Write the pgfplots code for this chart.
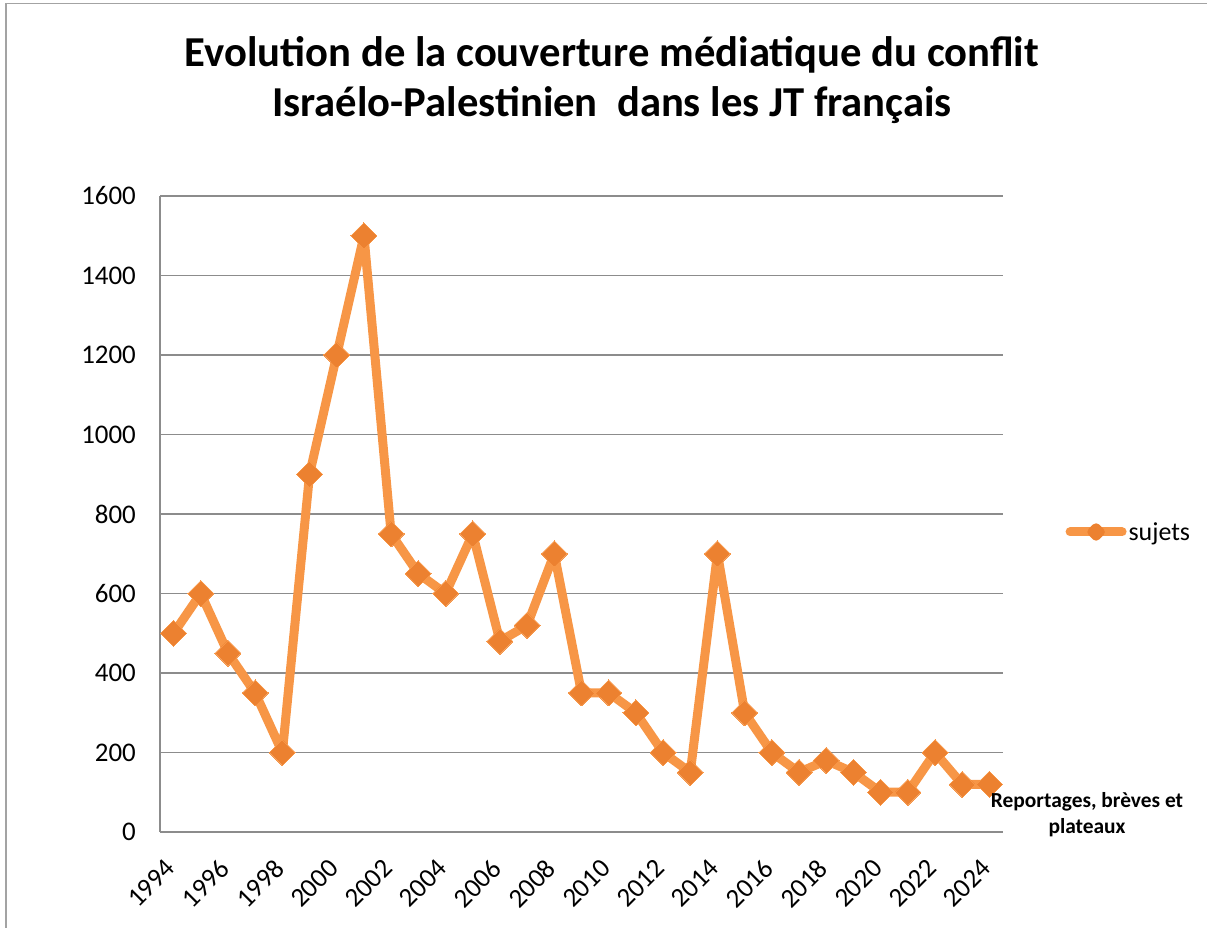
\documentclass[border=0pt]{standalone}
\usepackage{fontspec}
\setmainfont{Carlito}
\usepackage{pgfplots}
\pgfplotsset{compat=1.18}
\definecolor{lineor}{HTML}{F79646}
\definecolor{markor}{HTML}{EC8130}
\definecolor{gridg}{HTML}{8C8C8C}
\pgfplotstableread{
year val
1994 500
1995 600
1996 450
1997 350
1998 200
1999 900
2000 1200
2001 1500
2002 750
2003 650
2004 600
2005 750
2006 480
2007 520
2008 700
2009 350
2010 350
2011 300
2012 200
2013 150
2014 700
2015 300
2016 200
2017 150
2018 180
2019 150
2020 100
2021 100
2022 200
2023 120
2024 120
}\sujets
\begin{document}
\begin{tikzpicture}[x=1bp,y=1bp]
\useasboundingbox (0,0) rectangle (1207,928);
\draw[gridg!80, line width=1.5bp] (6,-20) -- (6,924.5) -- (1230,924.5);
\node[font=\bfseries\fontsize{42.8}{50}\selectfont, align=center] at (612,848)
  {Evolution de la couverture médiatique du conflit\\Israélo-Palestinien\ \ dans les JT français};
\begin{axis}[
  at={(160bp,96bp)}, anchor=south west,
  scale only axis, width=843bp, height=636bp,
  xmin=1993.5, xmax=2024.5, ymin=0, ymax=1600,
  axis x line=bottom, axis y line=left,
  axis line style={-, draw=gridg, line width=1.5bp},
  ytick={0,200,...,1600},
  xtick={1994,1996,...,2024},
  ymajorgrids, major grid style={draw=gridg, line width=1.5bp},
  major tick length=0pt,
  /pgf/number format/assume math mode=true,
  /pgf/number format/1000 sep={},
  tick label style={font=\fontsize{27}{32}\selectfont},
  yticklabel style={inner sep=0pt, anchor=east, xshift=-24bp},
  xticklabel style={inner sep=0pt, xshift=-3bp, yshift=-32bp, rotate=45, anchor=east},
  legend style={at={(1.074,0.4717)}, anchor=west, draw=none, fill=none,
    font=\fontsize{26}{30}\selectfont, inner sep=0pt},
  legend image code/.code={
    \draw[lineor, line width=9bp, line cap=round] (0bp,0bp) -- (52bp,0bp);
    \fill[markor, rotate around={45:(26bp,0bp)}] (23bp,-3bp) rectangle (29bp,3bp);
  },
  clip=false,
]
\addplot[color=lineor, line width=9bp, line join=round,
  mark=square*, mark size=9.2bp,
  mark options={rotate=45, fill=markor, draw=none, line width=0pt}] table[x=year, y=val] {\sujets};
\addlegendentry{sujets}
\end{axis}
\node[font=\bfseries\fontsize{21.5}{26}\selectfont, align=center] at (1087,113)
  {Reportages, brèves et\\plateaux};
\end{tikzpicture}
\end{document}
